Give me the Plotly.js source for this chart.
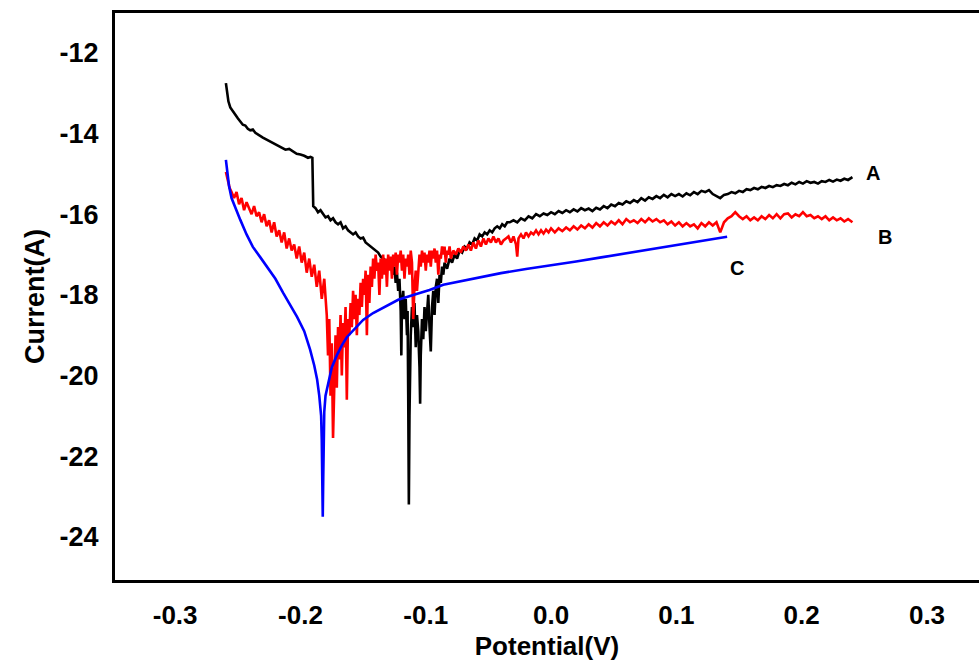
<!DOCTYPE html>
<html>
<head>
<meta charset="utf-8">
<script src="https://cdn.plot.ly/plotly-3.0.1.min.js"></script>
<style>html,body{margin:0;padding:0;background:#fff;overflow:hidden}</style>
</head>
<body>
<div id="chart" style="width:979px;height:662px"></div>
<script>
// Curve A (black)
const aX = [-0.2595,-0.2585,-0.2575,-0.256,-0.254,-0.252,-0.250,-0.248,-0.246,-0.244,-0.242,-0.240,-0.238,-0.236,-0.233,-0.230,-0.227,-0.224,-0.221,-0.218,-0.215,-0.212,-0.209,-0.206,-0.203,-0.200,-0.197,-0.194,-0.192,-0.1905,-0.1900,-0.1898,-0.188,-0.186,-0.184,-0.182,-0.180,-0.178,-0.176,-0.174,-0.172,-0.170,-0.168,-0.166,-0.164,-0.162,-0.160,-0.158,-0.156,-0.154,-0.152,-0.150,-0.148,-0.146,-0.144,-0.142,-0.140,-0.138,-0.136,-0.134,-0.132,-0.130,-0.128,-0.127,-0.126,-0.125,-0.124,-0.123,-0.122,-0.121,-0.120,-0.1195,-0.119,-0.118,-0.117,-0.116,-0.115,-0.1145,-0.114,-0.1135,-0.113,-0.112,-0.111,-0.110,-0.109,-0.108,-0.107,-0.106,-0.105,-0.1045,-0.104,-0.103,-0.102,-0.101,-0.100,-0.099,-0.098,-0.097,-0.096,-0.095,-0.094,-0.093,-0.092,-0.091,-0.090,-0.089,-0.088,-0.087,-0.086,-0.085,-0.083,-0.081,-0.079,-0.077,-0.075,-0.073,-0.071,-0.069,-0.067,-0.065,-0.063,-0.061,-0.059,-0.057,-0.055,-0.053,-0.051,-0.049,-0.047,-0.045,-0.043,-0.041,-0.039,-0.037,-0.035,-0.033,-0.030,-0.027,-0.024,-0.021,-0.018,-0.015,-0.012,-0.009,-0.006,-0.003,0.000,0.003,0.006,0.009,0.012,0.015,0.018,0.021,0.024,0.027,0.030,0.033,0.036,0.039,0.042,0.045,0.048,0.051,0.054,0.057,0.060,0.063,0.066,0.069,0.072,0.075,0.078,0.081,0.084,0.087,0.090,0.093,0.096,0.099,0.102,0.105,0.108,0.111,0.114,0.117,0.120,0.123,0.126,0.129,0.132,0.135,0.138,0.141,0.144,0.147,0.150,0.153,0.156,0.159,0.162,0.165,0.168,0.171,0.174,0.177,0.180,0.183,0.186,0.189,0.192,0.195,0.198,0.201,0.204,0.207,0.210,0.213,0.216,0.219,0.222,0.225,0.228,0.231,0.234,0.237,0.2405];
const aY = [-12.75,-12.95,-13.2,-13.35,-13.45,-13.55,-13.62,-13.7,-13.78,-13.8,-13.88,-13.92,-13.9,-13.98,-14.05,-14.1,-14.15,-14.2,-14.25,-14.3,-14.35,-14.4,-14.38,-14.45,-14.5,-14.52,-14.55,-14.6,-14.58,-14.6,-15.3,-15.8,-15.85,-15.95,-15.9,-16.0,-16.08,-16.05,-16.15,-16.1,-16.2,-16.25,-16.2,-16.35,-16.3,-16.4,-16.45,-16.5,-16.45,-16.55,-16.6,-16.58,-16.7,-16.75,-16.8,-16.85,-16.9,-16.95,-17.05,-17.1,-17.15,-17.2,-17.35,-17.2,-17.5,-17.3,-17.7,-17.45,-17.9,-17.6,-18.4,-19.5,-18.2,-17.9,-18.6,-18.1,-19.0,-18.4,-20.5,-23.2,-21.0,-19.0,-18.3,-18.8,-18.2,-19.3,-18.5,-18.9,-19.8,-20.7,-19.5,-18.6,-19.1,-18.3,-18.9,-18.5,-18.0,-18.8,-19.4,-18.3,-17.9,-18.5,-17.8,-17.6,-18.2,-17.5,-17.7,-17.3,-17.5,-17.2,-17.35,-17.1,-17.2,-17.0,-17.1,-16.9,-16.95,-16.8,-16.85,-16.7,-16.75,-16.6,-16.65,-16.5,-16.55,-16.45,-16.5,-16.4,-16.45,-16.35,-16.3,-16.35,-16.25,-16.3,-16.2,-16.2,-16.15,-16.2,-16.1,-16.15,-16.05,-16.1,-16.0,-16.05,-15.98,-16.02,-15.95,-16.0,-15.92,-15.97,-15.9,-15.95,-15.88,-15.93,-15.85,-15.9,-15.86,-15.92,-15.84,-15.88,-15.8,-15.85,-15.76,-15.8,-15.72,-15.76,-15.68,-15.72,-15.65,-15.7,-15.6,-15.66,-15.58,-15.62,-15.55,-15.6,-15.52,-15.58,-15.5,-15.55,-15.5,-15.56,-15.48,-15.53,-15.45,-15.5,-15.42,-15.45,-15.4,-15.5,-15.55,-15.6,-15.52,-15.5,-15.45,-15.48,-15.42,-15.45,-15.38,-15.4,-15.35,-15.38,-15.32,-15.35,-15.3,-15.33,-15.28,-15.3,-15.25,-15.28,-15.22,-15.26,-15.2,-15.24,-15.18,-15.22,-15.2,-15.24,-15.18,-15.2,-15.15,-15.19,-15.14,-15.17,-15.12,-15.15,-15.08];

// Curve B (red)
const bX = [-0.2595,-0.258,-0.2565,-0.255,-0.253,-0.251,-0.249,-0.247,-0.245,-0.243,-0.241,-0.239,-0.237,-0.235,-0.233,-0.231,-0.229,-0.227,-0.225,-0.223,-0.221,-0.219,-0.217,-0.215,-0.213,-0.211,-0.209,-0.207,-0.205,-0.203,-0.201,-0.199,-0.197,-0.195,-0.193,-0.191,-0.189,-0.187,-0.185,-0.183,-0.181,-0.179,-0.178,-0.177,-0.176,-0.175,-0.174,-0.173,-0.172,-0.171,-0.170,-0.169,-0.168,-0.167,-0.166,-0.165,-0.164,-0.163,-0.162,-0.161,-0.160,-0.159,-0.158,-0.157,-0.156,-0.155,-0.154,-0.153,-0.152,-0.151,-0.150,-0.149,-0.148,-0.147,-0.146,-0.145,-0.144,-0.143,-0.142,-0.141,-0.140,-0.139,-0.138,-0.137,-0.136,-0.135,-0.134,-0.133,-0.132,-0.131,-0.130,-0.129,-0.128,-0.127,-0.126,-0.125,-0.124,-0.123,-0.122,-0.121,-0.120,-0.119,-0.118,-0.117,-0.116,-0.115,-0.114,-0.113,-0.112,-0.111,-0.110,-0.109,-0.108,-0.107,-0.106,-0.105,-0.104,-0.103,-0.102,-0.101,-0.100,-0.099,-0.098,-0.097,-0.096,-0.095,-0.094,-0.093,-0.092,-0.091,-0.090,-0.089,-0.088,-0.087,-0.086,-0.085,-0.084,-0.083,-0.082,-0.081,-0.080,-0.078,-0.076,-0.074,-0.072,-0.070,-0.068,-0.066,-0.064,-0.062,-0.060,-0.058,-0.056,-0.054,-0.052,-0.050,-0.048,-0.046,-0.044,-0.042,-0.040,-0.038,-0.036,-0.034,-0.032,-0.030,-0.028,-0.027,-0.026,-0.024,-0.022,-0.020,-0.018,-0.016,-0.014,-0.012,-0.010,-0.008,-0.006,-0.004,-0.002,0.000,0.003,0.006,0.009,0.012,0.015,0.018,0.021,0.024,0.027,0.030,0.033,0.036,0.039,0.042,0.045,0.048,0.051,0.054,0.057,0.060,0.063,0.066,0.069,0.072,0.075,0.078,0.081,0.084,0.087,0.090,0.093,0.096,0.099,0.102,0.105,0.108,0.111,0.114,0.117,0.120,0.123,0.126,0.129,0.132,0.135,0.138,0.141,0.144,0.147,0.150,0.153,0.156,0.159,0.162,0.165,0.168,0.171,0.174,0.177,0.180,0.183,0.186,0.189,0.192,0.195,0.198,0.201,0.204,0.207,0.210,0.213,0.216,0.219,0.222,0.225,0.228,0.231,0.234,0.237,0.2405];
const bY = [-14.95,-15.2,-15.35,-15.45,-15.6,-15.45,-15.75,-15.6,-15.9,-15.7,-15.85,-16.0,-15.8,-16.05,-15.95,-16.2,-16.0,-16.3,-16.15,-16.45,-16.2,-16.55,-16.4,-16.7,-16.45,-16.85,-16.6,-16.9,-16.75,-17.1,-16.8,-17.2,-16.95,-17.45,-17.1,-17.55,-17.25,-17.8,-17.4,-18.1,-17.6,-18.5,-19.5,-18.6,-20.5,-19.2,-21.55,-20.0,-19.0,-20.3,-18.8,-19.6,-18.5,-20.0,-18.7,-19.3,-18.3,-20.6,-18.6,-19.0,-18.2,-18.8,-17.9,-18.6,-18.0,-19.0,-18.1,-18.5,-17.7,-18.3,-17.6,-18.0,-17.4,-19.0,-17.5,-18.2,-17.3,-17.8,-17.1,-17.6,-17.0,-17.4,-17.2,-18.0,-17.1,-17.6,-17.0,-17.5,-17.1,-17.8,-17.0,-17.4,-17.05,-17.6,-17.0,-17.3,-16.95,-17.5,-17.0,-17.2,-16.9,-17.4,-17.0,-17.6,-17.1,-17.3,-17.0,-17.5,-16.9,-17.2,-18.6,-17.8,-17.4,-17.9,-17.4,-17.0,-17.3,-16.9,-17.2,-16.95,-17.4,-17.0,-17.2,-16.9,-17.3,-16.9,-17.1,-16.85,-17.2,-16.9,-17.5,-17.0,-17.1,-16.8,-17.0,-16.8,-17.2,-16.9,-17.0,-16.8,-17.1,-16.9,-17.0,-16.85,-16.95,-16.8,-16.9,-16.75,-16.9,-16.7,-16.85,-16.65,-16.8,-16.6,-16.75,-16.6,-16.7,-16.55,-16.7,-16.6,-16.75,-16.65,-16.6,-16.55,-16.7,-16.55,-16.75,-17.05,-16.6,-16.5,-16.6,-16.45,-16.55,-16.45,-16.5,-16.4,-16.5,-16.4,-16.48,-16.38,-16.45,-16.35,-16.45,-16.35,-16.42,-16.33,-16.4,-16.3,-16.38,-16.28,-16.35,-16.25,-16.33,-16.22,-16.3,-16.2,-16.28,-16.18,-16.25,-16.15,-16.25,-16.12,-16.2,-16.15,-16.22,-16.12,-16.2,-16.1,-16.18,-16.12,-16.2,-16.15,-16.25,-16.18,-16.28,-16.2,-16.3,-16.22,-16.3,-16.25,-16.35,-16.22,-16.3,-16.2,-16.28,-16.2,-16.45,-16.2,-16.1,-16.05,-15.95,-16.05,-16.12,-16.05,-16.15,-16.08,-16.15,-16.05,-16.12,-16.02,-16.1,-16.0,-16.1,-16.0,-15.98,-16.08,-16.0,-16.05,-15.95,-16.05,-16.02,-16.1,-16.05,-16.12,-16.05,-16.15,-16.08,-16.15,-16.1,-16.18,-16.12,-16.2];

// Curve C (blue)
const cX = [-0.2595,-0.2585,-0.257,-0.255,-0.252,-0.248,-0.243,-0.238,-0.232,-0.2266,-0.220,-0.2138,-0.208,-0.2026,-0.197,-0.1923,-0.189,-0.1867,-0.185,-0.184,-0.1835,-0.183,-0.1825,-0.1822,-0.1818,-0.1815,-0.181,-0.180,-0.178,-0.175,-0.171,-0.167,-0.163,-0.157,-0.150,-0.142,-0.133,-0.122,-0.110,-0.097,-0.086,-0.070,-0.055,-0.040,-0.020,0.000,0.020,0.040,0.060,0.080,0.100,0.120,0.1405];
const cY = [-14.65,-14.95,-15.3,-15.6,-15.85,-16.14,-16.5,-16.81,-17.07,-17.31,-17.6,-17.95,-18.25,-18.55,-18.9,-19.36,-19.75,-20.1,-20.5,-20.9,-21.0,-21.6,-22.8,-23.5,-22.5,-21.5,-20.9,-20.5,-20.2,-19.8,-19.5,-19.25,-19.05,-18.85,-18.62,-18.45,-18.3,-18.12,-18.0,-17.88,-17.75,-17.65,-17.55,-17.46,-17.36,-17.27,-17.17,-17.07,-16.97,-16.86,-16.76,-16.66,-16.56];

const labelText = ['A','B','C'];
const labelX = [0.257, 0.2666, 0.1485];
const labelY = [-14.98, -16.56, -17.33];

const xTicks = [-0.3,-0.2,-0.1,0.0,0.1,0.2,0.3];
const xTickText = ['-0.3','-0.2','-0.1','0.0','0.1','0.2','0.3'];
const yTicks = [-24,-22,-20,-18,-16,-14,-12];
const yTickText = ['-24','-22','-20','-18','-16','-14','-12'];

const lineW = 2.6;
const traces = [
  {x:aX, y:aY, mode:'lines', line:{color:'#000000', width:lineW}, name:'A'},
  {x:bX, y:bY, mode:'lines', line:{color:'#ff0000', width:lineW}, name:'B'},
  {x:cX, y:cY, mode:'lines', line:{color:'#0000ff', width:lineW}, name:'C'}
];

const tickFont = {family:'Arial, "Liberation Sans", sans-serif', size:26, color:'#000', weight:'bold'};
const layout = {
  width:979, height:662,
  margin:{l:115, r:0, t:13, b:82, pad:0},
  paper_bgcolor:'#fff', plot_bgcolor:'#fff',
  showlegend:false,
  font:{family:'Arial, "Liberation Sans", sans-serif', color:'#000'},
  xaxis:{
    range:[-0.348, 0.3415], tickvals:xTicks, ticktext:xTickText,
    showgrid:false, zeroline:false, showline:true, linewidth:3, linecolor:'#000', mirror:true,
    ticks:'', ticklabelstandoff:10, tickfont:tickFont,
    title:{text:'<b>Potential(V)</b>', font:{size:26, color:'#000'}, standoff:8}
  },
  yaxis:{
    range:[-25.07, -11.01], tickvals:yTicks, ticktext:yTickText,
    showgrid:false, zeroline:false, showline:true, linewidth:3, linecolor:'#000', mirror:false,
    ticks:'', ticklabelstandoff:8, tickfont:{family:tickFont.family, size:27, color:'#000', weight:'bold'},
    title:{text:'<b>Current(A)</b>', font:{size:27, color:'#000'}, standoff:8}
  },
  annotations: labelText.map((t,i)=>({x:labelX[i], y:labelY[i], xref:'x', yref:'y', text:'<b>'+t+'</b>', showarrow:false, font:{size:20, color:'#000'}}))
};

Plotly.newPlot('chart', traces, layout, {displayModeBar:false, staticPlot:true});
</script>
</body>
</html>
